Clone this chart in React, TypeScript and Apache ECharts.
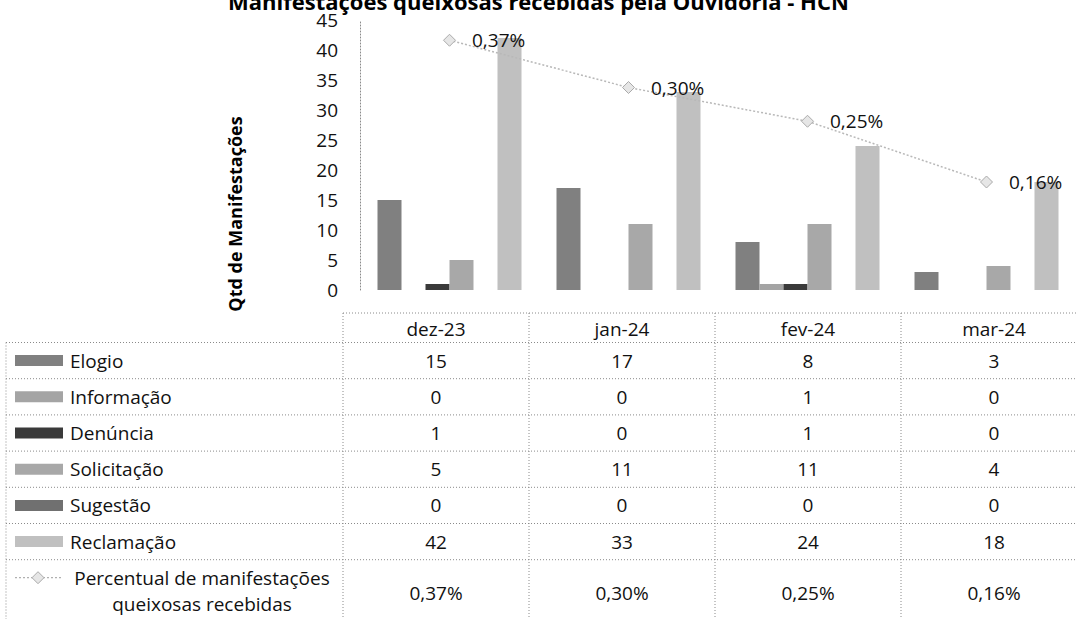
import React, { useEffect, useRef } from "react";
import * as echarts from "echarts";

const categories = ["dez-23", "jan-24", "fev-24", "mar-24"];
const elogio = [15, 17, 8, 3];
const informacao = [0, 0, 1, 0];
const denuncia = [1, 0, 1, 0];
const solicitacao = [5, 11, 11, 4];
const sugestao = [0, 0, 0, 0];
const reclamacao = [42, 33, 24, 18];
const percentual = [0.37, 0.3, 0.25, 0.16];

const barSeriesNames = ["Elogio", "Informação", "Denúncia", "Solicitação", "Sugestão", "Reclamação"];
const barSeriesData = [elogio, informacao, denuncia, solicitacao, sugestao, reclamacao];
const barColors = ["#808080", "#a4a4a4", "#3a3a3a", "#a8a8a8", "#707070", "#c0c0c0"];
const lineName = "Percentual de manifestações\nqueixosas recebidas";

const TITLE = "Manifestações queixosas recebidas pela Ouvidoria - HCN";
const Y_TITLE = "Qtd de Manifestações";

const FONT = "'Open Sans', sans-serif";

const fmtPct = (v: number) => v.toFixed(2).replace(".", ",") + "%";

export default function App() {
  const ref = useRef<HTMLDivElement>(null);
  useEffect(() => {
    document.body.style.margin = "0";
    const chart = echarts.init(ref.current!, null, { renderer: "svg" });

    const dotted = { stroke: "#8a8a8a", lineWidth: 1, lineDash: [1, 2] };
    const colX = [343, 529, 715, 901, 1087];
    const legendLeft = 6;
    const headerTop = 313;
    const rowTop = 342.5;
    const rowH = 36.2;
    const nRows = barSeriesNames.length;
    const lastRowTop = rowTop + nRows * rowH;
    const bottom = 640;

    const g: any[] = [];
    g.push({
      type: "text",
      x: 228,
      y: 1,
      style: { text: TITLE, font: `bold 22px ${FONT}`, fill: "#000", textAlign: "left", textVerticalAlign: "middle" },
    });
    g.push({
      type: "text",
      x: 235,
      y: 214,
      rotation: Math.PI / 2,
      style: { text: Y_TITLE, font: `bold 18px ${FONT}`, fill: "#000", textAlign: "center", textVerticalAlign: "middle" },
    });
    g.push({ type: "line", shape: { x1: colX[0], y1: headerTop, x2: 1076, y2: headerTop }, style: dotted });
    for (let i = 0; i <= nRows; i++) {
      const y = rowTop + i * rowH;
      g.push({ type: "line", shape: { x1: legendLeft, y1: y, x2: 1076, y2: y }, style: dotted });
    }
    g.push({ type: "line", shape: { x1: legendLeft, y1: rowTop, x2: legendLeft, y2: bottom }, style: dotted });
    for (let c = 0; c < colX.length; c++) {
      g.push({ type: "line", shape: { x1: colX[c], y1: headerTop, x2: colX[c], y2: bottom }, style: dotted });
    }
    categories.forEach((cat, c) => {
      g.push({
        type: "text",
        x: (colX[c] + colX[c + 1]) / 2,
        y: (headerTop + rowTop) / 2 + 1,
        style: { text: cat, font: `19px ${FONT}`, fill: "#111", textAlign: "center", textVerticalAlign: "middle" },
      });
    });
    barSeriesNames.forEach((name, r) => {
      const cy = rowTop + r * rowH + rowH / 2;
      g.push({ type: "rect", shape: { x: 15, y: cy - 5.5, width: 48, height: 11 }, style: { fill: barColors[r] } });
      g.push({
        type: "text",
        x: 70,
        y: cy,
        style: { text: name, font: `19px ${FONT}`, fill: "#111", textAlign: "left", textVerticalAlign: "middle" },
      });
      barSeriesData[r].forEach((v, c) => {
        g.push({
          type: "text",
          x: (colX[c] + colX[c + 1]) / 2,
          y: cy,
          style: { text: String(v), font: `19px ${FONT}`, fill: "#111", textAlign: "center", textVerticalAlign: "middle" },
        });
      });
    });
    const pcy = lastRowTop + 31;
    g.push({ type: "line", shape: { x1: 15, y1: pcy - 13, x2: 62, y2: pcy - 13 }, style: { stroke: "#b0b0b0", lineWidth: 1.2, lineDash: [2, 2] } });
    g.push({
      type: "polygon",
      shape: { points: [[38, pcy - 19], [44, pcy - 13], [38, pcy - 7], [32, pcy - 13]] },
      style: { fill: "#e6e6e6", stroke: "#aaaaaa", lineWidth: 1 },
    });
    g.push({
      type: "text",
      x: 202,
      y: pcy,
      style: { text: lineName, font: `19px ${FONT}`, fill: "#111", textAlign: "center", textVerticalAlign: "middle", lineHeight: 26 },
    });
    percentual.forEach((v, c) => {
      g.push({
        type: "text",
        x: (colX[c] + colX[c + 1]) / 2,
        y: pcy + 2,
        style: { text: fmtPct(v), font: `19px ${FONT}`, fill: "#111", textAlign: "center", textVerticalAlign: "middle" },
      });
    });

    const series: any[] = barSeriesNames.map((name, i) => ({
      name,
      type: "bar",
      data: barSeriesData[i],
      barWidth: 24,
      barGap: "0%",
      itemStyle: { color: barColors[i] },
    }));
    series.push({
      name: lineName,
      type: "line",
      yAxisIndex: 1,
      data: percentual,
      z: 5,
      symbol: "diamond",
      symbolSize: 12,
      lineStyle: { color: "#b8b8b8", width: 1.5, type: [2, 2] },
      itemStyle: { color: "#e6e6e6", borderColor: "#aaaaaa", borderWidth: 1 },
      label: {
        show: true,
        position: "right",
        distance: 16,
        formatter: (p: any) => fmtPct(p.value),
        fontFamily: FONT,
        fontSize: 19,
        color: "#111",
      },
    });

    chart.setOption({
      animation: false,
      backgroundColor: "#fff",
      grid: { left: 360, right: 0, top: 20, bottom: 329, containLabel: false },
      xAxis: {
        type: "category",
        data: categories,
        axisLine: { show: false },
        axisTick: { show: false },
        axisLabel: { show: false },
      },
      yAxis: [
        {
          type: "value",
          min: 0,
          max: 45,
          interval: 5,
          axisLine: { show: true, lineStyle: { color: "#8a8a8a", type: [1, 2] } },
          axisTick: { show: false },
          splitLine: { show: false },
          axisLabel: { fontFamily: FONT, fontSize: 19, color: "#111", margin: 22 },
        },
        {
          type: "value",
          min: 0,
          max: 0.4,
          show: false,
          splitLine: { show: false },
        },
      ],
      series,
      graphic: g,
    });
    return () => chart.dispose();
  }, []);
  return <div ref={ref} style={{ width: 1076, height: 619 }} />;
}
